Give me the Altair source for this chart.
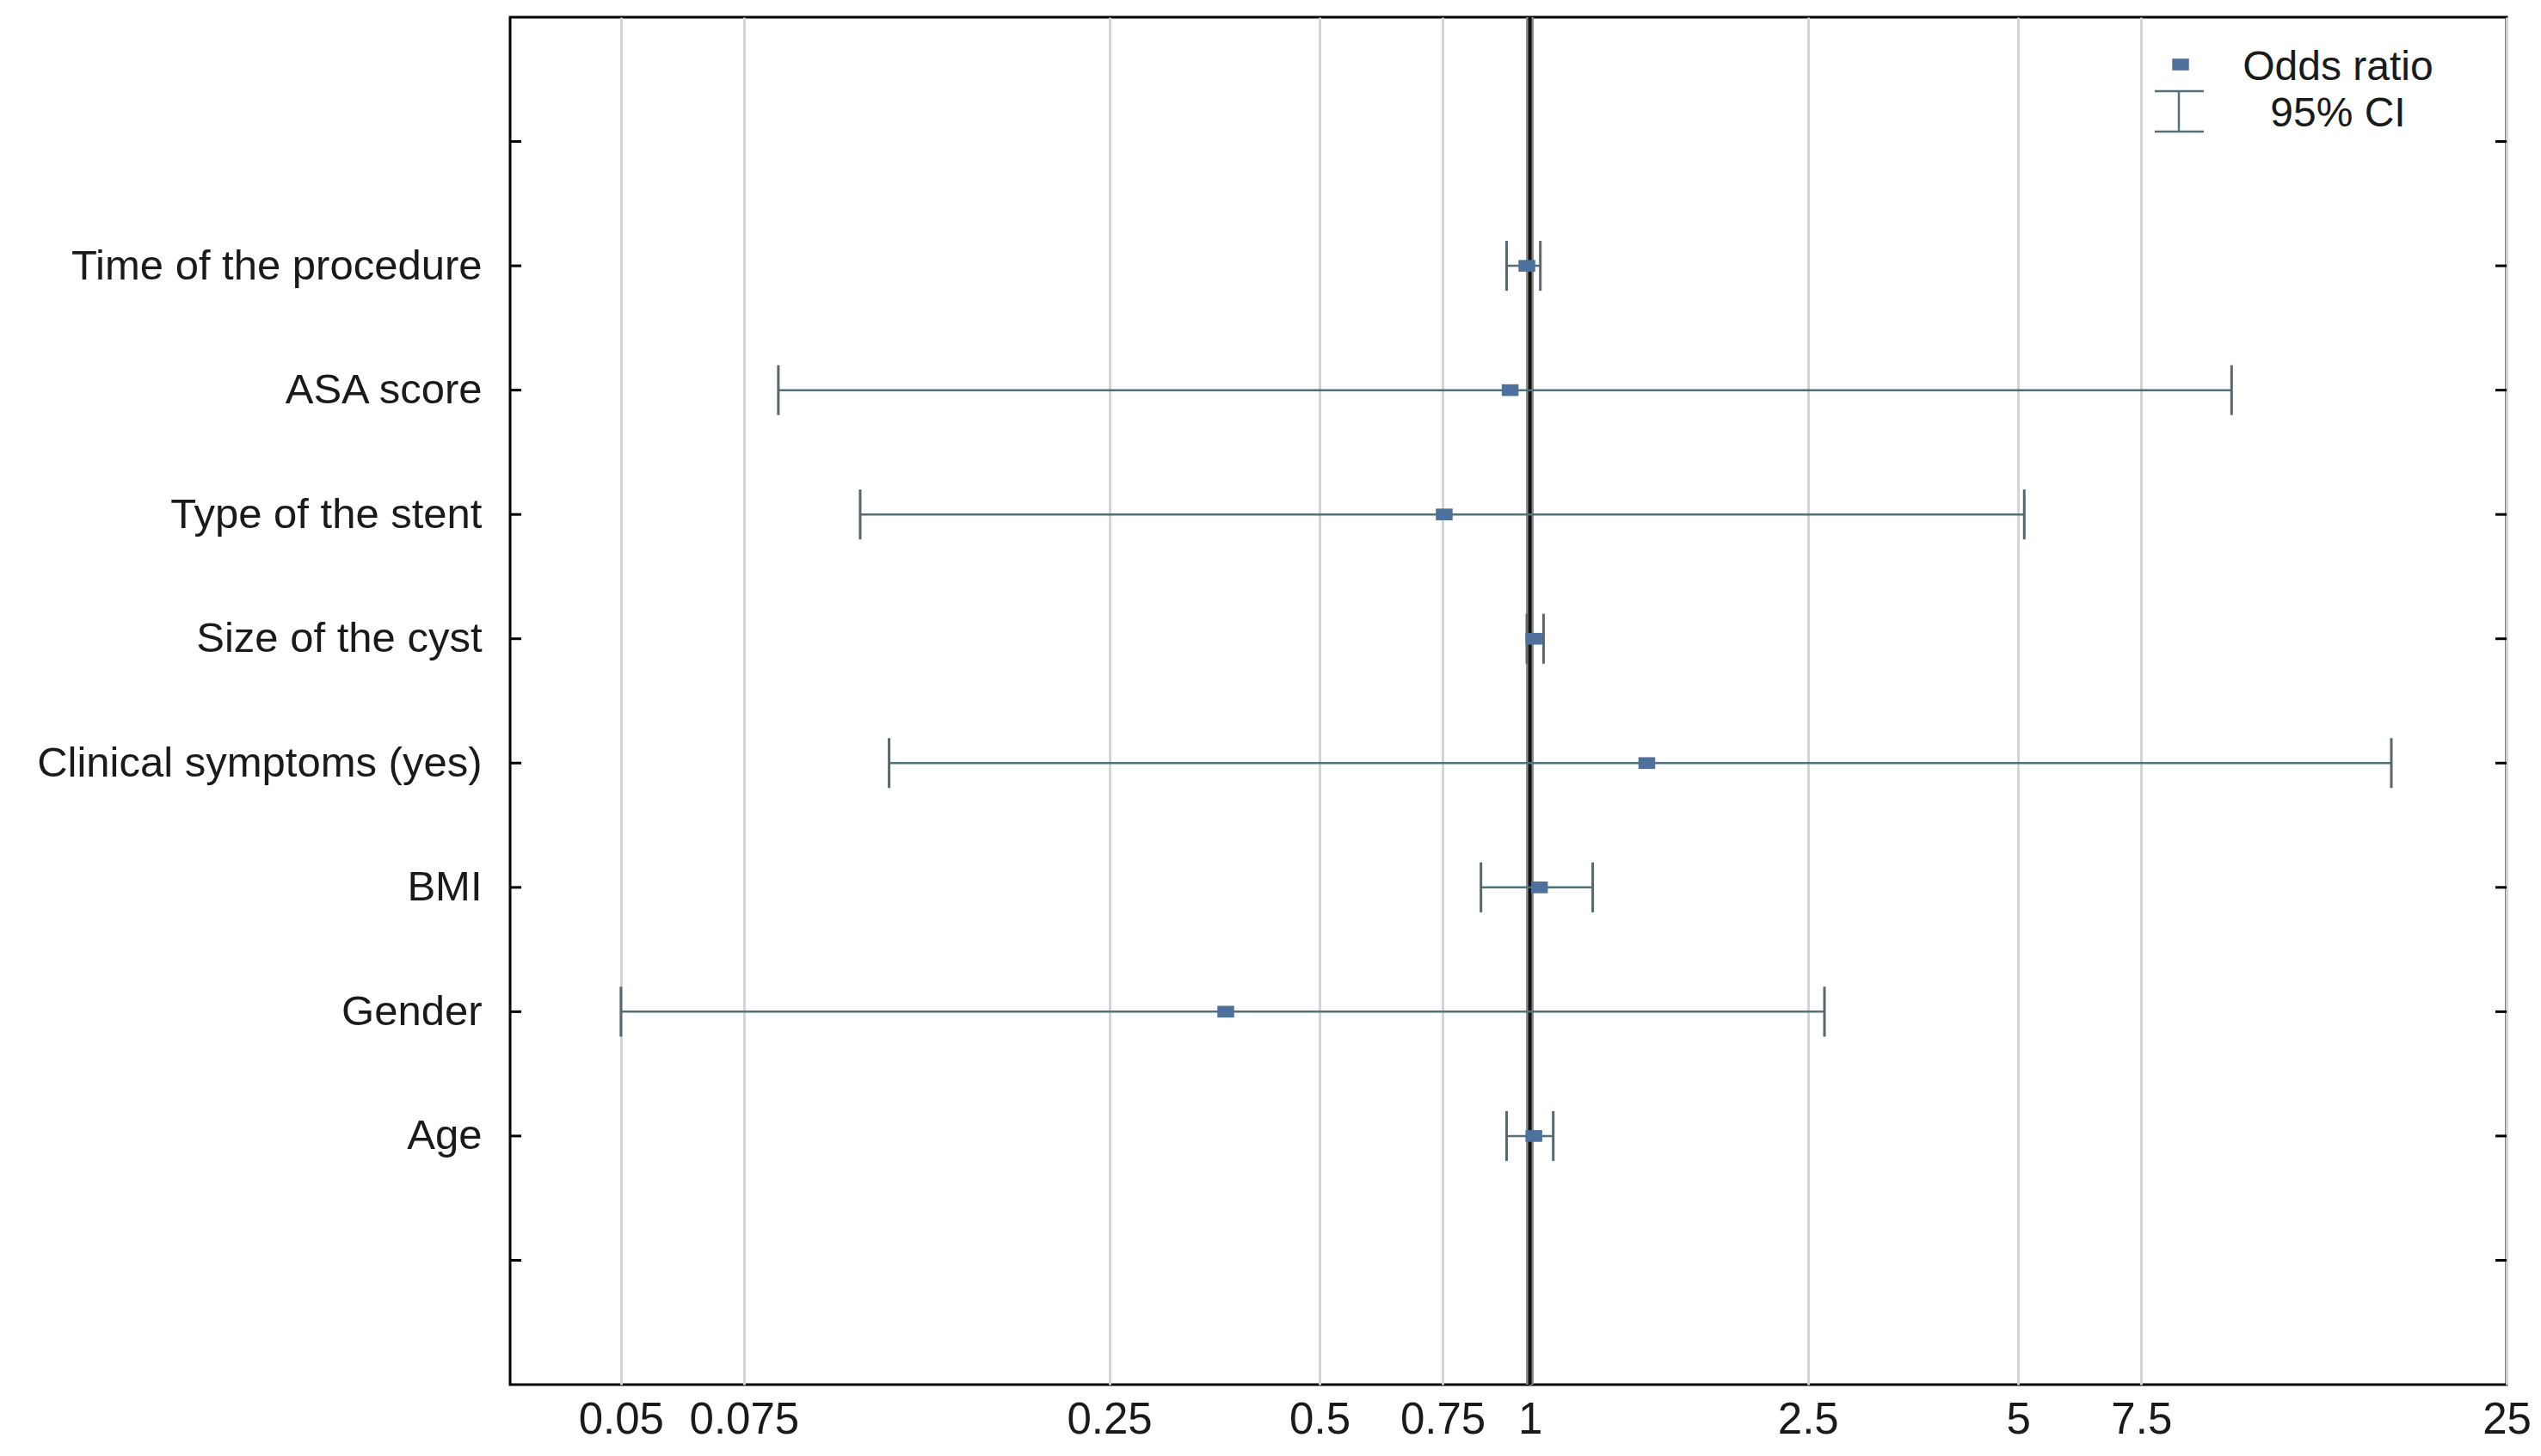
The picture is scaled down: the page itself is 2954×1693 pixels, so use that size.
import altair as alt
import pandas as pd

# ---- data ----
names = ["Time of the procedure", "ASA score", "Type of the stent", "Size of the cyst",
         "Clinical symptoms (yes)", "BMI", "Gender", "Age"]
odds = [0.990, 0.937, 0.754, 1.013, 1.470, 1.032, 0.367, 1.013]
ci_lo = [0.926, 0.084, 0.110, 0.990, 0.121, 0.851, 0.050, 0.926]
ci_hi = [1.035, 10.1, 5.10, 1.046, 17.1, 1.23, 2.64, 1.08]
positions = [9, 8, 7, 6, 5, 4, 3, 2]          # slot on the vertical axis (0..11)
x_ticks = [0.05, 0.075, 0.25, 0.5, 0.75, 1, 2.5, 5, 7.5, 25]
y_tick_slots = [1, 2, 3, 4, 5, 6, 7, 8, 9, 10]
x_domain = [0.0347, 25]
y_domain = [0, 11]

W, H = 2321, 1590
FONT = "Liberation Sans"
LINE_C = "#50707c"
CAP_C = "#59666c"
SQ_C = "#4e709c"

df = pd.DataFrame({"name": names, "or": odds, "lo": ci_lo, "hi": ci_hi, "pos": positions})
ticks_df = pd.DataFrame({"slot": y_tick_slots})
one = pd.DataFrame({"k": [0]})

label_arr = ["" for _ in range(12)]
for n, p in zip(names, positions):
    label_arr[p] = n
label_expr = "[" + ",".join("'" + s + "'" for s in label_arr) + "][datum.value]"

xscale = alt.Scale(type="log", domain=x_domain, nice=False, zero=False)
yscale = alt.Scale(domain=y_domain, nice=False, zero=False)

x_axis = alt.Axis(values=x_ticks, format="~g", grid=True, gridColor="#d4d4d4", gridWidth=3,
                  ticks=False, tickSize=0, domain=False, labelFont=FONT, labelFontSize=51,
                  labelColor="#1a1a1a", labelPadding=16, labelFlush=False, labelOverlap=False,
                  labelBound=False, title=None)
y_axis = alt.Axis(values=positions, labelExpr=label_expr, grid=False, ticks=False, tickSize=0,
                  domain=False, labelFont=FONT, labelFontSize=49, labelColor="#1a1a1a",
                  labelPadding=33, labelLimit=1000, title=None)

base = alt.Chart(df)

# axis carrier (invisible) to draw gridlines and labels
axes = alt.Chart(df).mark_point(opacity=0).encode(
    x=alt.X("or:Q", scale=xscale, axis=x_axis),
    y=alt.Y("pos:Q", scale=yscale, axis=y_axis),
)

ref_gray = alt.Chart(one).mark_rule(color="#8a8a8a", strokeWidth=9).encode(
    x=alt.datum(1, scale=xscale, type="quantitative"))
ref_black = alt.Chart(one).mark_rule(color="#111111", strokeWidth=4).encode(
    x=alt.datum(1, scale=xscale, type="quantitative"))

bars = base.mark_rule(color=LINE_C, strokeWidth=2.5).encode(
    x=alt.X("lo:Q", scale=xscale), x2="hi:Q", y=alt.Y("pos:Q", scale=yscale))
cap_lo = base.mark_tick(orient="vertical", color=CAP_C, size=58, thickness=3, opacity=1).encode(
    x=alt.X("lo:Q", scale=xscale), y=alt.Y("pos:Q", scale=yscale))
cap_hi = base.mark_tick(orient="vertical", color=CAP_C, size=58, thickness=3, opacity=1).encode(
    x=alt.X("hi:Q", scale=xscale), y=alt.Y("pos:Q", scale=yscale))

SQ_PATH = "M-1,-0.7H1V0.7H-1Z"
squares = base.mark_point(shape=SQ_PATH, size=380, filled=True, opacity=1, color=SQ_C,
                          strokeWidth=0).encode(
    x=alt.X("or:Q", scale=xscale), y=alt.Y("pos:Q", scale=yscale))

# inward y ticks on both sides
ticks_left = alt.Chart(ticks_df).mark_rule(color="#000000", strokeWidth=3).encode(
    x=alt.value(0), x2=alt.value(13), y=alt.Y("slot:Q", scale=yscale))
ticks_right = alt.Chart(ticks_df).mark_rule(color="#000000", strokeWidth=3).encode(
    x=alt.value(W - 13), x2=alt.value(W), y=alt.Y("slot:Q", scale=yscale))

# legend (top right)
LX = 1942
leg_sq = alt.Chart(one).mark_point(shape=SQ_PATH, size=380, filled=True, opacity=1,
                                   color=SQ_C, strokeWidth=0).encode(
    x=alt.value(LX), y=alt.value(55))
leg_v = alt.Chart(one).mark_rule(color=LINE_C, strokeWidth=2.5).encode(
    x=alt.value(LX - 2), y=alt.value(86), y2=alt.value(133))
leg_c1 = alt.Chart(one).mark_rule(color=LINE_C, strokeWidth=2.5).encode(
    x=alt.value(LX - 30), x2=alt.value(LX + 27), y=alt.value(86))
leg_c2 = alt.Chart(one).mark_rule(color=LINE_C, strokeWidth=2.5).encode(
    x=alt.value(LX - 30), x2=alt.value(LX + 27), y=alt.value(133))
leg_t1 = alt.Chart(one).mark_text(text="Odds ratio", font=FONT, fontSize=48, color="#1a1a1a",
                                  align="center", baseline="middle").encode(
    x=alt.value(2125), y=alt.value(59))
leg_t2 = alt.Chart(one).mark_text(text="95% CI", font=FONT, fontSize=48, color="#1a1a1a",
                                  align="center", baseline="middle").encode(
    x=alt.value(2125), y=alt.value(113))

chart = alt.layer(
    axes, ref_gray, ref_black, bars, cap_lo, cap_hi, squares, ticks_left, ticks_right,
    leg_sq, leg_v, leg_c1, leg_c2, leg_t1, leg_t2,
).properties(
    width=W, height=H,
    autosize=alt.AutoSizeParams(type="none"),
    padding={"left": 585, "top": 12, "right": 30, "bottom": 68},
    background="white",
).configure_view(
    stroke="#000000", strokeWidth=3, fill="white"
)

chart.save("out.html", embed_options={"renderer": "svg", "actions": False})
